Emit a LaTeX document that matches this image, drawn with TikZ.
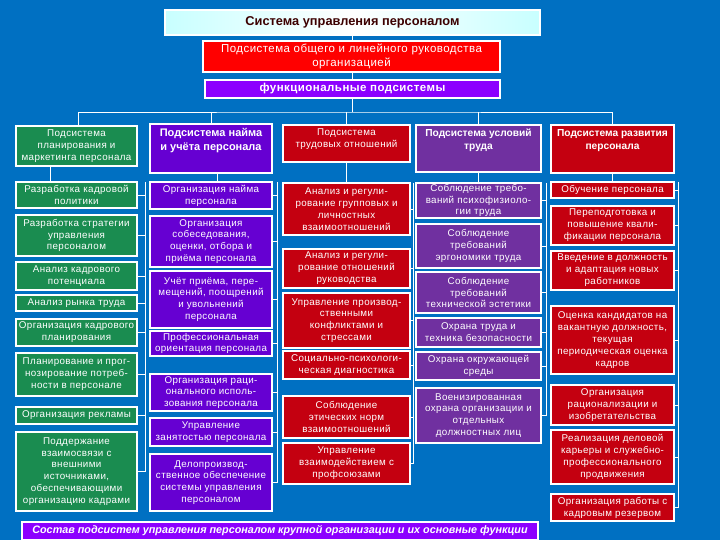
\documentclass[tikz,border=0pt]{standalone}
\usepackage{fontspec}
\setmainfont{Liberation Sans}
\definecolor{bg}{RGB}{0,112,194}
\definecolor{cgreen}{RGB}{26,140,80}
\definecolor{cviolet}{RGB}{102,0,210}
\definecolor{cdred}{RGB}{196,0,16}
\definecolor{cpurple}{RGB}{112,48,160}
\definecolor{cband}{RGB}{140,0,255}
\definecolor{ttl}{RGB}{60,0,0}
\definecolor{tcyan}{RGB}{200,255,255}
\newcommand\lsp{\addfontfeatures{LetterSpace=4}}
\tikzset{
  box/.style={draw=white, line width=1.3pt, inner sep=0pt, outer sep=0pt},
  txt/.style={align=center, text=white, inner sep=0pt, font=\fontsize{9.8}{11.9}\selectfont\lsp},
  htxt/.style={txt, font=\bfseries\fontsize{10.2}{13}\selectfont},
  hbig/.style={txt, font=\bfseries\fontsize{11}{14}\selectfont},
  con/.style={draw=white, line width=0.8pt}
}
\newcommand\bx[7]{\node[box,fill=#6,minimum width=#4pt,minimum height=#5pt,anchor=north west] (#1) at (#2,#3) {};
  \node[txt] at (#1.center) {#7};}
\newcommand\hbx[8]{\node[box,fill=#6,minimum width=#4pt,minimum height=#5pt,anchor=north west] (#1) at (#2,#3) {};
  \node[#8,anchor=north] at ([yshift=-4pt]#1.north) {#7};}
\begin{document}
\begin{tikzpicture}[x=1pt,y=-1pt]
\useasboundingbox (0,0) rectangle (720,540);
\fill[bg] (0,0) rectangle (720,540);
% top
\node[box, left color=tcyan, right color=tcyan, middle color=white, minimum width=375pt, minimum height=25pt, anchor=north west] (top) at (165,10) {};
\node[text=ttl, font=\bfseries\fontsize{12.8}{14}\selectfont] at (top.center) {Система управления персоналом};
\node[box, fill=red, minimum width=297pt, minimum height=31pt, anchor=north west] (lin) at (203,41) {};
\node[txt, font=\fontsize{11.5}{14}\selectfont\lsp] at (lin.center) {Подсистема общего и линейного руководства\\организацией};
\node[box, fill=cband, minimum width=295pt, minimum height=18pt, anchor=north west] (fun) at (205,80) {};
\node[txt, font=\bfseries\fontsize{11.5}{12}\selectfont\lsp] at (fun.center) {функциональные подсистемы};
\coordinate (bus) at (352,112);
\draw[con] (top.south -| bus) -- (lin.north -| bus);
\draw[con] (lin.south -| bus) -- (fun.north -| bus);
\draw[con] (fun.south -| bus) -- (bus);
% column 1
\hbx{a0}{16}{126}{121}{40}{cgreen}{Подсистема\\планирования и\\маркетинга персонала}{txt}
\bx{a1}{16}{182}{121}{26}{cgreen}{Разработка кадровой\\политики}
\bx{a2}{16}{215}{121}{41}{cgreen}{Разработка стратегии\\управления\\персоналом}
\bx{a3}{16}{262}{121}{28}{cgreen}{Анализ кадрового\\потенциала}
\bx{a4}{16}{295}{121}{16}{cgreen}{Анализ рынка труда}
\bx{a5}{16}{319}{121}{27}{cgreen}{Организация кадрового\\планирования}
\bx{a6}{16}{353}{121}{43}{cgreen}{Планирование и прог-\\нозирование потреб-\\ности в персонале}
\bx{a7}{16}{407}{121}{17}{cgreen}{Организация рекламы}
\bx{a8}{16}{432}{121}{79}{cgreen}{Поддержание\\взаимосвязи с\\внешними\\источниками,\\обеспечивающими\\организацию кадрами}
% column 2
\hbx{b0}{150}{124}{122}{49}{cviolet}{Подсистема найма\\и учёта персонала}{hbig}
\bx{b1}{150}{182}{122}{27}{cviolet}{Организация найма\\персонала}
\bx{b2}{150}{216}{122}{51}{cviolet}{Организация\\собеседования,\\оценки, отбора и\\приёма персонала}
\bx{b3}{150}{271}{122}{57}{cviolet}{Учёт приёма, пере-\\мещений, поощрений\\и увольнений\\персонала}
\bx{b4}{150}{331}{122}{25}{cviolet}{Профессиональная\\ориентация персонала}
\bx{b5}{150}{374}{122}{37}{cviolet}{Организация раци-\\онального исполь-\\зования персонала}
\bx{b6}{150}{418}{122}{28}{cviolet}{Управление\\занятостью персонала}
\bx{b7}{150}{454}{122}{57}{cviolet}{Делопроизвод-\\ственное обеспечение\\системы управления\\персоналом}
% column 3
\hbx{c0}{283}{125}{127}{37}{cdred}{Подсистема\\трудовых отношений}{txt}
\bx{c1}{283}{183}{127}{52}{cdred}{Анализ и регули-\\рование групповых и\\личностных\\взаимоотношений}
\bx{c2}{283}{249}{127}{39}{cdred}{Анализ и регули-\\рование отношений\\руководства}
\bx{c3}{283}{293}{127}{55}{cdred}{Управление производ-\\ственными\\конфликтами и\\стрессами}
\bx{c4}{283}{351}{127}{28}{cdred}{Социально-психологи-\\ческая диагностика}
\bx{c5}{283}{396}{127}{42}{cdred}{Соблюдение\\этических норм\\взаимоотношений}
\bx{c6}{283}{443}{127}{41}{cdred}{Управление\\взаимодействием с\\профсоюзами}
% column 4
\hbx{d0}{416}{125}{125}{47}{cpurple}{Подсистема условий\\труда}{htxt}
\bx{d1}{416}{183}{125}{35}{cpurple}{Соблюдение требо-\\ваний психофизиоло-\\гии труда}
\bx{d2}{416}{224}{125}{44}{cpurple}{Соблюдение\\требований\\эргономики труда}
\bx{d3}{416}{272}{125}{41}{cpurple}{Соблюдение\\требований\\технической эстетики}
\bx{d4}{416}{318}{125}{29}{cpurple}{Охрана труда и\\техника безопасности}
\bx{d5}{416}{352}{125}{28}{cpurple}{Охрана окружающей\\среды}
\bx{d6}{416}{388}{125}{55}{cpurple}{Военизированная\\охрана организации и\\отдельных\\должностных лиц}
% column 5
\hbx{e0}{551}{125}{123}{48}{cdred}{Подсистема развития\\персонала}{htxt}
\bx{e1}{551}{182}{123}{16}{cdred}{Обучение персонала}
\bx{e2}{551}{206}{123}{39}{cdred}{Переподготовка и\\повышение квали-\\фикации персонала}
\bx{e3}{551}{251}{123}{39}{cdred}{Введение в должность\\и адаптация новых\\работников}
\bx{e4}{551}{306}{123}{68}{cdred}{Оценка кандидатов на\\вакантную должность,\\текущая\\периодическая оценка\\кадров}
\bx{e5}{551}{385}{123}{40}{cdred}{Организация\\рационализации и\\изобретательства}
\bx{e6}{551}{430}{123}{54}{cdred}{Реализация деловой\\карьеры и служебно-\\профессионального\\продвижения}
\bx{e7}{551}{494}{123}{27}{cdred}{Организация работы с\\кадровым резервом}
% bus to headers
\draw[con] ([xshift=1.5pt]a0.north) |- (bus) -| (e0.north);
\draw[con] (b0.north) -- (b0.north |- bus);
\draw[con] (c0.north) -- (c0.north |- bus);
\draw[con] (d0.north) -- (d0.north |- bus);
% header to first item
\draw[con] ([xshift=-26pt]a0.south) -- ([xshift=-26pt]a1.north);
\draw[con] ([xshift=6pt]b0.south) -- ([xshift=6pt]b1.north);
\draw[con] (c0.south) -- (c1.north);
\draw[con] (d0.south) -- (d1.north);
\draw[con] (e0.south) -- (e1.north);
% spines
\foreach \col/\last/\sx in {a/8/145, b/7/277, c/6/413, d/6/546, e/7/678}{
  \draw[con, line width=0.6pt] (\sx,0 |- \col1.north) -- (\sx,0 |- \col\last.center);
  \foreach \i in {1,...,\last}{
    \draw[con, line width=0.6pt] (\col\i.east) -- (\sx,0 |- \col\i.east);
  }
}
% caption
\node[box, fill=cband, minimum width=516pt, minimum height=18pt, anchor=north west] (cap) at (22,522) {};
\node[text=white, font=\bfseries\itshape\fontsize{10.8}{12}\selectfont] at (cap.center) {Состав подсистем управления персоналом крупной организации и их основные функции};
\end{tikzpicture}
\end{document}
